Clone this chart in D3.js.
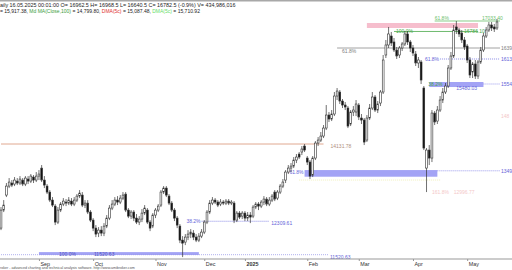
<!DOCTYPE html>
<html lang="en">
<head>
<meta charset="utf-8">
<title>Daily chart</title>
<script src="https://cdn.jsdelivr.net/npm/d3@7"></script>
<style>
  body { margin: 0; background: #fff; }
  svg { display: block; font-family: "Liberation Sans", Arial, sans-serif; }
</style>
</head>
<body>
<script>
// daily bars: [open, high, low, close]
var ohlc = [
[12148,12644,12101,12573],[12573,12809,12526,12691],[12927,13211,12880,13139],[13139,13328,13092,13234],
[13211,13281,13116,13163],[13187,13352,13139,13281],[13257,13328,13163,13211],[13211,13375,13163,13305],
[13281,13328,13139,13187],[13187,13375,13139,13328],[13305,13375,13187,13257],[13257,13423,13211,13375],
[13352,13399,13211,13281],[13281,13470,13234,13375],[13375,13517,13281,13423],[13564,13635,13234,13281],
[13281,13375,13092,13163],[13139,13187,12951,12998],[12998,13045,12762,12809],[12809,12880,12644,12691],
[12667,12715,12219,12290],[12290,12644,12243,12573],[12573,12762,12526,12715],[12715,12856,12667,12785],
[12762,12833,12667,12738],[12738,12880,12691,12809],[12785,12856,12667,12715],[12715,12880,12667,12809],
[12809,12951,12762,12903],[12903,13045,12856,12974],[12927,12998,12644,12691],[12691,12809,12620,12738],
[12738,12809,12479,12526],[12526,12573,12290,12337],[12337,12384,12077,12148],[12148,12219,11936,12007],
[12030,12172,11936,12101],[12101,12195,11959,12030],[12030,12266,11959,12195],[12195,12455,12148,12384],
[12384,12691,12337,12620],[12620,12809,12573,12715],[12715,12880,12667,12809],[12809,12903,12691,12762],
[12762,12927,12715,12856],[12856,12998,12809,12927],[12951,12998,12526,12573],[12573,12620,12384,12431],
[12431,12573,12361,12526],[12526,12573,12313,12384],[12384,12479,12243,12290],[12290,12431,12219,12361],
[12361,12597,12290,12502],[12502,12691,12455,12620],[12573,12620,12243,12290],[12290,12337,12077,12148],
[12195,12502,12148,12455],[12455,12620,12384,12573],[12573,12715,12526,12667],[12691,13045,12644,12998],
[12998,13139,12951,13092],[13092,13139,12880,12927],[12903,12951,12691,12738],[12738,12785,12526,12573],
[12573,12620,12313,12384],[12384,12431,12148,12219],[12195,12243,11794,11865],[11865,11959,11464,11794],
[11818,12007,11747,11936],[11936,12101,11865,12007],[12007,12125,11912,12054],[12030,12101,11865,11936],
[11936,12007,11818,11865],[11865,12030,11818,11959],[11959,12125,11912,12054],[12054,12337,12007,12290],
[12290,12573,12243,12526],[12526,12809,12479,12738],[12738,12880,12691,12809],[12809,12856,12715,12762],
[12762,12809,12644,12691],[12715,12833,12667,12762],[12762,12809,12691,12738],[12738,12833,12691,12785],
[12785,12833,12691,12738],[12738,12809,12691,12762],[12738,12785,12266,12337],[12337,12549,12290,12502],
[12502,12549,12361,12408],[12431,12549,12361,12502],[12502,12549,12313,12384],[12384,12526,12313,12455],
[12455,12526,12266,12408],[12431,12691,12384,12644],[12644,12762,12597,12715],[12715,12762,12573,12667],
[12667,12809,12620,12762],[12762,12903,12691,12833],[12833,12880,12667,12715],[12715,12880,12667,12809],
[12809,12951,12762,12903],[12998,13045,12785,12833],[12856,13045,12809,12998],[12998,13187,12951,13139],
[13139,13305,13092,13234],[13281,13517,13211,13470],[13470,13635,13423,13564],[13564,13682,13470,13611],
[13611,13824,13564,13753],[13753,13895,13682,13824],[13895,13942,13777,13824],[13942,14083,13871,14013],
[14083,14131,13942,13989],[13800,13847,13635,13706],[13706,13753,13305,13375],[13399,13847,13352,13800],
[13800,14201,13753,14154],[14154,14296,14083,14225],[14225,14414,14178,14319],[14319,14579,14272,14508],
[14508,15051,14461,14815],[14815,14886,14650,14721],[14721,14933,14673,14839],[14839,15358,14791,15263],
[15263,15452,15169,15381],[15358,15405,15075,15145],[15145,15193,14980,15051],[15051,15122,14933,15004],
[14980,15027,14508,14555],[14603,14933,14555,14886],[14886,15027,14791,14933],[14886,15169,14791,15075],
[15051,15098,14697,14768],[14744,14839,14603,14697],[14697,14744,14107,14178],[14225,14815,14178,14744],
[14744,15075,14697,14980],[14980,15358,14933,15240],[15240,15287,14886,14933],[14933,15145,14862,15075],
[15098,15405,15027,15358],[15358,16231,15311,16113],[16231,16585,16160,16467],[16467,16892,16396,16727],
[16679,16774,16443,16514],[16538,16632,16302,16349],[16349,16420,16137,16207],[16231,16443,16160,16396],
[16396,16538,16325,16491],[16491,16797,16443,16727],[16727,16797,16467,16538],[16538,16585,16302,16396],
[16396,16467,16207,16278],[16255,16325,15971,16042],[16042,16184,15924,16113],[16066,16113,15547,15641],
[15452,15499,13989,14036],[13564,14036,12998,13989],[13989,14107,13635,13800],[13800,14933,13706,14862],
[14862,14909,14579,14650],[14673,15027,14603,14933],[14933,15263,14886,15169],[15169,15452,15098,15358],
[15358,15570,15311,15499],[15499,15995,15452,15924],[15924,16302,15877,16207],[16207,16939,16160,16821],
[16892,17033,16727,16821],[16821,16868,16656,16727],[16750,16821,16514,16585],[16585,16656,16349,16420],
[16443,16491,16042,16113],[16113,16184,15688,15759],[15830,16066,15688,16019],[16019,16113,15665,15735],
[15735,16113,15665,16066],[16066,16420,16019,16349],[16349,16750,16302,16679],[16679,16892,16632,16821],
[16821,17010,16774,16939],[16939,17010,16797,16868],[16892,16963,16774,16845],[16868,17081,16821,17010]
];

// month starts (bar index) and their labels
var monthStart = [14, 34, 57, 75, 90, 113, 132, 152, 172];
var monthLabels = ["Sep", "Oct", "Nov", "Dec", "2025", "Feb", "Mar", "Apr", "May"];

// fibonacci zones: top, bottom, first bar, last bar
var zoneTop  = [13517, 11582, 16986, 15594];
var zoneBot  = [13360, 11513, 16868, 15476];
var zoneFrom = [112, 14, 135, 158];
var zoneTo   = [161, 73, 176, 178];

// level lines: price, first bar, last bar
var levelValue = [14131.78, 12309.61, 11520.63, 16396.14, 16136.90, 13499.82, 15547.30, 17033.40, 16786.10, 13281.00];
var levelFrom  = [0, 74, 0, 124, 162, 161, 178, 160, 145, 110];
var levelTo    = [119, 99, 121, 183, 183, 183, 183, 183, 176, 162];

// price-axis labels as far as they show at the right edge
var rightText  = ["1639", "1613", "1349", "1554", "148"];
var rightValue = [16396.14, 16136.90, 13499.82, 15547.30, 14800];

var headerLine1 = "aily 16.05.2025 00:01:00 O= 16962.5  H= 16968.5  L= 16640.5  C= 16782.5 (-0.9%) V= 434,986,016";
var footerText = "roker - advanced charting and technical analysis software. http://www.amibroker.com";

var w = 512, h = 270;

var svg = d3.select("body").append("svg")
  .attr("width", w)
  .attr("height", h);

var x = d3.scaleLinear().domain([0, ohlc.length - 1]).range([1, 497]);
var y = d3.scaleLinear().domain([11520.63, 14131.78]).range([254.7, 144]);

// top gray strip
svg.append("rect").attr("x", 0).attr("y", 0).attr("width", w).attr("height", 1.5).attr("fill", "#a8a8a8");

// header
svg.append("text").attr("x", 0).attr("y", 6.5).attr("font-size", 5.4).attr("fill", "#222").text(headerLine1);
var h2 = svg.append("text").attr("x", 0).attr("y", 12.5).attr("font-size", 5).attr("fill", "#222");
h2.append("tspan").text("= 15,917.38, ");
h2.append("tspan").attr("fill", "#3c9c3c").text("Md MA(Close,100)");
h2.append("tspan").text(" = 14,799.80, ");
h2.append("tspan").attr("fill", "#e03030").text("DMA(5c)");
h2.append("tspan").text(" = 15,087.48, ");
h2.append("tspan").attr("fill", "#66dd66").text("DMA(5c)");
h2.append("tspan").text(" = 15,710.92");

var fmt = d3.format(".2f");

// zones
var zoneFill = ["#8c8cf2", "#8c8cf2", "#f5b3c4", "#8c8cf2"];
var zoneOp = [0.8, 0.8, 0.85, 0.8];
zoneTop.forEach(function(t, i) {
  svg.append("rect")
    .attr("x", x(zoneFrom[i]))
    .attr("y", y(t))
    .attr("width", x(zoneTo[i]) - x(zoneFrom[i]))
    .attr("height", y(zoneBot[i]) - y(t))
    .attr("fill", zoneFill[i])
    .attr("opacity", zoneOp[i]);
});

// level lines
var lvlColor = ["#e0a890", "#7070e0", "#9a9ae8", "#8a8a8a", "#7070e0", "#8080e8", "#8080e8", "#6cc06c", "#4aa84a", "#eeeeb0"];
var lvlDash  = [null, "1,1", "1,1", null, "1,1", "1,1", "1,1", null, null, "1,1"];
levelValue.forEach(function(v, i) {
  svg.append("line")
    .attr("x1", x(levelFrom[i])).attr("x2", i >= 3 && i <= 7 ? 500 : x(levelTo[i]))
    .attr("y1", y(v)).attr("y2", y(v))
    .attr("stroke", lvlColor[i])
    .attr("stroke-width", i === 0 ? 1 : 0.8)
    .attr("stroke-dasharray", lvlDash[i]);
});

function label(tx, ty, txt, col, anchor) {
  svg.append("text")
    .attr("x", tx).attr("y", ty)
    .attr("font-size", 5)
    .attr("fill", col)
    .attr("text-anchor", anchor || "start")
    .text(txt);
}

// annotations next to the levels
label(x(levelTo[0]) + 7, y(levelValue[0]) + 3.5, fmt(levelValue[0]), "#b09080");
label(x(levelFrom[1]) - 1, y(levelValue[1]) + 2, "38.2%", "#6464d8", "end");
label(x(levelTo[1]) + 2, y(levelValue[1]) + 4, fmt(levelValue[1]), "#6464d8");
label(x(levelTo[2]) + 1, y(levelValue[2]) + 4, fmt(levelValue[2]), "#6464d8");
label(x(zoneFrom[1]) + 20, y(levelValue[2]) + 1.5, "100.0%", "#5050c0");
label(x(zoneFrom[1]) + 55, y(levelValue[2]) + 1.5, fmt(levelValue[2]), "#5050c0");
label(x(levelFrom[3]) + 5, y(levelValue[3]) + 5, "61.8%", "#808080");
label(x(levelFrom[4]) - 1, y(levelValue[4]) + 2, "61.8%", "#6464d8", "end");
label(x(zoneFrom[0]) - 1, y(zoneTop[0]) + 4, "61.8%", "#6464d8", "end");
label(x(zoneFrom[3]) - 1, y(zoneTop[3]) + 4, "38.2%", "#4aa84a");
label(x(zoneFrom[3]) + 27, y(zoneBot[3]) + 3, "15480.03", "#6464d8");
label(x(levelFrom[7]), y(levelValue[7]) - 0.5, "61.8%", "#6cc06c");
label(482, y(levelValue[7]) - 0.5, fmt(levelValue[7]), "#6cc06c");
label(x(levelFrom[8]) + 2, y(levelValue[8]) + 2, "100.0%", "#4aa84a");
label(x(levelTo[8]) - 14, y(levelValue[8]) + 2, fmt(levelValue[8]), "#4aa84a");
label(x(159), y(12996.77) + 2, "161.8%", "#f4c8c8");
label(x(167), y(12996.77) + 2, "12996.77", "#f4c8c8");

var rightCol = ["#808080", "#6464d8", "#6464d8", "#6464d8", "#f4c8c8"];
rightText.forEach(function(t, i) {
  label(501, y(rightValue[i]) + 2, t, rightCol[i]);
});

// candles
var candles = svg.append("g");
candles.selectAll("line")
  .data(ohlc)
  .enter()
  .append("line")
  .attr("x1", function(d, i) { return x(i); })
  .attr("x2", function(d, i) { return x(i); })
  .attr("y1", function(d) { return y(d[1]); })
  .attr("y2", function(d) { return y(d[2]); })
  .attr("stroke", "#333")
  .attr("stroke-width", 0.7);

candles.selectAll("rect")
  .data(ohlc)
  .enter()
  .append("rect")
  .attr("x", function(d, i) { return x(i) - 0.9; })
  .attr("width", 1.8)
  .attr("y", function(d) { return y(Math.max(d[0], d[3])); })
  .attr("height", function(d) { return Math.max(0.6, Math.abs(y(d[0]) - y(d[3]))); })
  .attr("fill", function(d) { return d[3] >= d[0] ? "#fff" : "#111"; })
  .attr("stroke", "#333")
  .attr("stroke-width", 0.6);

// date axis
var xAxis = d3.axisBottom(x)
  .tickValues(monthStart)
  .tickFormat(function(d, i) { return monthLabels[i]; })
  .tickSize(2)
  .tickPadding(1);

var ax = svg.append("g")
  .attr("transform", "translate(0,259)")
  .call(xAxis);
ax.select(".domain").attr("stroke", "#999").attr("d", "M0,0H512");
ax.selectAll(".tick line").attr("stroke", "#999");
ax.selectAll(".tick text")
  .attr("text-anchor", "start")
  .attr("x", 1)
  .attr("font-size", 5.4)
  .attr("font-family", "Liberation Sans, Arial, sans-serif")
  .attr("fill", "#333")
  .attr("font-weight", function(d, i) { return monthLabels[i] === "2025" ? "bold" : null; });

svg.append("text")
  .attr("x", 0).attr("y", 269.3)
  .attr("font-size", 3.6)
  .attr("fill", "#555")
  .text(footerText);
</script>
</body>
</html>
